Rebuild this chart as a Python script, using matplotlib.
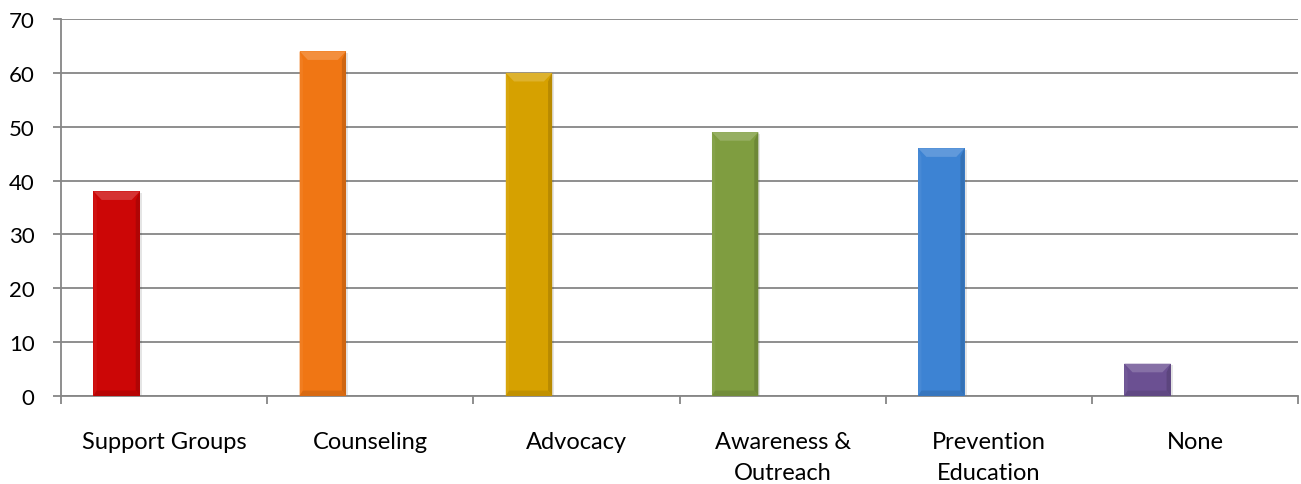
import numpy as np
import matplotlib
matplotlib.use("Agg")
import matplotlib.pyplot as plt
from matplotlib.patches import Polygon, Rectangle
from matplotlib.colors import to_rgb

categories = ["Support Groups", "Counseling", "Advocacy", "Awareness &\nOutreach", "Prevention\nEducation", "None"]
values = [38, 64, 60, 49, 46, 6]
colors = ["#cc0606", "#f07614", "#d6a100", "#7f9d40", "#3d83d3", "#6b5092"]

plt.rcParams['font.family'] = ['Lato', 'DejaVu Sans']

def shade(c, f):
    # f>0 lightens toward white, f<0 darkens toward black
    r = np.array(to_rgb(c))
    if f > 0:
        return tuple(r + (1 - r) * f)
    return tuple(r * (1 + f))

fig = plt.figure(figsize=(13.01, 4.85), dpi=100)
ax = fig.add_axes([61 / 1301, (485 - 397) / 485, (1298 - 61) / 1301, (397 - 20) / 485])

x = np.arange(len(categories))
offset = -0.23   # bars sit to the left of each category slot
width = 0.225
bw = 0.04        # bevel width (category units)
bt = 1.6         # top bevel height (value units)
bb = 1.0         # bottom bevel height

for xi, v, c in zip(x, values, colors):
    x0 = xi + offset - width / 2
    x1 = xi + offset + width / 2
    # soft shadow
    ax.add_patch(Rectangle((x0 + 0.004, -0.3), width + 0.006, v, color="#000000", alpha=0.10, lw=0, zorder=2))
    ax.bar(xi + offset, v, width=width, color=c, lw=0, zorder=3)
    # bevel faces
    ax.add_patch(Polygon([(x0, v), (x1, v), (x1 - bw, v - bt), (x0 + bw, v - bt)],
                         closed=True, color=shade(c, 0.18), lw=0, zorder=4))
    ax.add_patch(Polygon([(x1, v), (x1, 0), (x1 - bw * 0.5, bb), (x1 - bw * 0.5, v - bt)],
                         closed=True, color=shade(c, -0.14), lw=0, zorder=4))
    ax.add_patch(Polygon([(x0, 0), (x0, v), (x0 + bw * 0.4, v - bt), (x0 + bw * 0.4, bb)],
                         closed=True, color=shade(c, 0.05), lw=0, zorder=4))
    ax.add_patch(Polygon([(x0, 0), (x1, 0), (x1 - bw * 0.5, bb), (x0 + bw * 0.4, bb)],
                         closed=True, color=shade(c, -0.1), lw=0, zorder=4))

ax.set_xlim(-0.5, len(categories) - 0.5)
ax.set_ylim(0, 70)
ax.set_yticks(range(0, 71, 10))
ax.set_xticks(np.arange(-0.5, len(categories), 1.0))
ax.set_xticklabels([])
ax.set_xticks(x, minor=True)
ax.set_xticklabels(categories, minor=True, fontsize=17, va="top", linespacing=1.6)
ax.tick_params(axis="x", which="minor", length=0, pad=25)
ax.tick_params(axis="x", which="major", length=6, width=1.3, color="#868686", direction="out")
ax.tick_params(axis="y", length=6, width=1.3, color="#868686", labelsize=16, pad=13)

ax.grid(axis="y", color="#868686", lw=1.3, zorder=1)
ax.set_axisbelow(True)
for s in ["top", "right"]:
    ax.spines[s].set_visible(False)
for s in ["left", "bottom"]:
    ax.spines[s].set_color("#868686")
    ax.spines[s].set_linewidth(1.3)

fig.savefig("out.png", dpi=100)
